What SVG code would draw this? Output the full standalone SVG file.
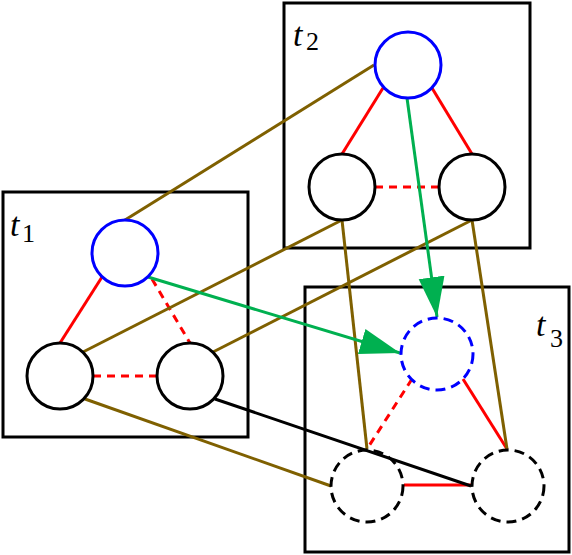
<svg xmlns="http://www.w3.org/2000/svg" width="572" height="555" viewBox="0 0 572 555">
<style>
.box{fill:none;stroke:#000;stroke-width:3}
.n{fill:none;stroke:#000;stroke-width:3}
.nb{fill:none;stroke:#0000ff;stroke-width:3}
.d{stroke-dasharray:10 6}
.r{stroke:#ff0000;stroke-width:3;fill:none}
.rd{stroke:#ff0000;stroke-width:3;fill:none;stroke-dasharray:8 6}
.o{stroke:#7f6000;stroke-width:3;fill:none}
.k{stroke:#000;stroke-width:3;fill:none}
.g{stroke:#00b050;stroke-width:3;fill:none;marker-end:url(#ah)}
</style>
<defs>
<marker id="ah" markerUnits="userSpaceOnUse" markerWidth="42" markerHeight="28" refX="40" refY="13" orient="auto">
<path d="M0,0 L40,13 L0,26 Z" fill="#00b050"/>
</marker>
</defs>
<g id="frames">
<g id="t1"><rect class="box" x="3" y="192" width="245" height="245"/><text x="10" y="236" font-family="'Liberation Serif', serif" font-style="italic" font-size="34" fill="#000">t</text><text x="22" y="242" font-family="'Liberation Serif', serif" font-size="26" fill="#000">1</text></g>
<g id="t2"><rect class="box" x="284" y="3" width="246" height="245"/><text x="293" y="46" font-family="'Liberation Serif', serif" font-style="italic" font-size="34" fill="#000">t</text><text x="306" y="50" font-family="'Liberation Serif', serif" font-size="26" fill="#000">2</text></g>
<g id="t3"><rect class="box" x="305" y="287" width="264" height="265"/><text x="536" y="336" font-family="'Liberation Serif', serif" font-style="italic" font-size="34" fill="#000">t</text><text x="550" y="347" font-family="'Liberation Serif', serif" font-size="26" fill="#000">3</text></g>
</g>
<g id="connectors">
<line class="r" x1="102" y1="277" x2="60" y2="343"/>
<line class="rd" x1="152" y1="279" x2="190" y2="343"/>
<line class="rd" x1="93" y1="376" x2="157" y2="376"/>
<line class="r" x1="383" y1="88" x2="342" y2="154"/>
<line class="r" x1="432" y1="88" x2="472" y2="154"/>
<line class="rd" x1="375" y1="187" x2="439" y2="187"/>
<line class="rd" x1="412" y1="379" x2="367" y2="449"/>
<line class="r" x1="463" y1="379" x2="507" y2="449"/>
<line class="r" x1="404" y1="485" x2="471" y2="485"/>
<line class="o" x1="125" y1="220" x2="374" y2="65"/>
<line class="o" x1="83" y1="352" x2="342" y2="220"/>
<line class="o" x1="213" y1="352" x2="472" y2="220"/>
<line class="o" x1="85" y1="399" x2="331" y2="486"/>
<line class="o" x1="342" y1="220" x2="367" y2="449"/>
<line class="o" x1="472" y1="220" x2="507" y2="449"/>
<line class="k" x1="215" y1="399" x2="471" y2="486"/>
<line class="g" x1="148" y1="277" x2="400" y2="353"/>
<line class="g" x1="407" y1="98" x2="437" y2="317"/>
</g>
<g id="t1-a"><circle class="nb" cx="125" cy="253" r="33"/></g>
<g id="t1-b"><circle class="n" cx="60" cy="376" r="33"/></g>
<g id="t1-c"><circle class="n" cx="190" cy="376" r="33"/></g>
<g id="t2-a"><circle class="nb" cx="408" cy="65" r="33"/></g>
<g id="t2-b"><circle class="n" cx="342" cy="187" r="33"/></g>
<g id="t2-c"><circle class="n" cx="472" cy="187" r="33"/></g>
<g id="t3-a"><circle class="nb d" cx="437" cy="354" r="36"/></g>
<g id="t3-b"><circle class="n d" cx="367" cy="486" r="36"/></g>
<g id="t3-c"><circle class="n d" cx="508" cy="486" r="36"/></g>
</svg>
